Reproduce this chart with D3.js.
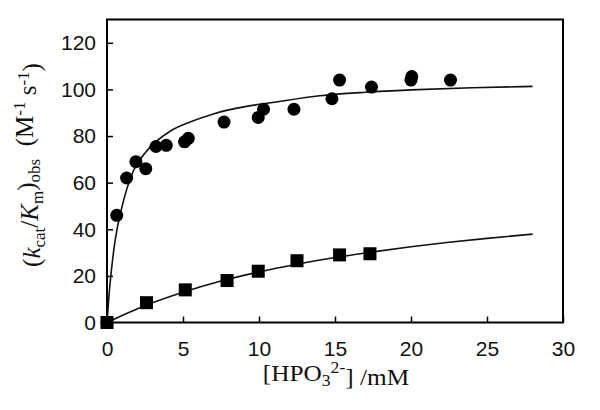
<!DOCTYPE html>
<html>
<head>
<meta charset="utf-8">
<script src="https://cdn.jsdelivr.net/npm/d3@7"></script>
<style>
  body { margin: 0; background: #fff; }
  svg { display: block; }
</style>
</head>
<body>
<svg width="600" height="410"></svg>
<script>
const circleX = [0, 0.64, 1.29, 1.9, 2.55, 3.22, 3.9, 5.1, 5.35, 7.7, 9.95, 10.3, 12.3, 14.8, 15.3, 17.4, 20.0, 20.05, 22.6];
const circleY = [0, 46, 62, 69, 66, 75.5, 76, 77.5, 79, 86, 88, 91.5, 91.5, 96, 104, 101, 104, 105.5, 104];

const squareX = [0, 2.6, 5.15, 7.9, 9.95, 12.5, 15.3, 17.3];
const squareY = [0, 8.5, 14, 18, 22, 26.5, 29, 29.5];

// fitted curves
const fitCircleX = [0, 0.15, 0.3, 0.53, 1, 1.73, 2.6, 4.14, 5.46, 7, 9, 11, 14, 17, 20, 24, 28];
const fitCircleY = [0, 13, 23, 35, 50, 65, 73.5, 82, 86, 89.5, 92.5, 94.5, 97.3, 98.8, 99.8, 100.7, 101.3];

const fitSquareX = [0, 2.6, 5, 7.5, 10, 12.5, 15, 17.5, 20, 22.5, 25, 28];
const fitSquareY = [0, 7.5, 13, 17.8, 21.7, 25, 27.9, 30.3, 32.5, 34.4, 36.1, 37.9];

const xTicks = [0, 5, 10, 15, 20, 25, 30];
const yTicks = [0, 20, 40, 60, 80, 100, 120];

const svg = d3.select("svg");

const x = d3.scaleLinear().domain([0, 30]).range([107, 563]);
const y = d3.scaleLinear().domain([0, 130]).range([322.5, 19.5]);

// axes with inward ticks
svg.append("g")
    .attr("transform", "translate(0,322.5)")
    .call(d3.axisBottom(x).tickValues(xTicks).tickSizeInner(-6).tickSizeOuter(0).tickPadding(19))
    .call(g => g.select(".domain").remove())
    .call(g => g.selectAll("line").attr("stroke", "#000").attr("stroke-width", 1.5))
    .call(g => g.selectAll("text")
        .attr("font-family", "Liberation Sans, Arial, sans-serif")
        .attr("font-size", "21px")
        .attr("fill", "#111"));

svg.append("g")
    .attr("transform", "translate(107,0)")
    .call(d3.axisLeft(y).tickValues(yTicks).tickSizeInner(-6).tickSizeOuter(0).tickPadding(11))
    .call(g => g.select(".domain").remove())
    .call(g => g.selectAll("line").attr("stroke", "#000").attr("stroke-width", 1.5))
    .call(g => g.selectAll("text")
        .attr("font-family", "Liberation Sans, Arial, sans-serif")
        .attr("font-size", "21px")
        .attr("fill", "#111"));

// frame
svg.append("rect")
    .attr("x", x(0))
    .attr("y", y(130))
    .attr("width", x(30) - x(0))
    .attr("height", y(0) - y(130))
    .attr("fill", "none")
    .attr("stroke", "#000")
    .attr("stroke-width", 2);

const line = d3.line()
    .x(d => x(d[0]))
    .y(d => y(d[1]))
    .curve(d3.curveMonotoneX);

svg.append("path")
    .datum(d3.zip(fitCircleX, fitCircleY))
    .attr("d", line)
    .attr("fill", "none")
    .attr("stroke", "#111")
    .attr("stroke-width", 1.6);

svg.append("path")
    .datum(d3.zip(fitSquareX, fitSquareY))
    .attr("d", line)
    .attr("fill", "none")
    .attr("stroke", "#111")
    .attr("stroke-width", 1.6);

svg.selectAll(".pt-circle")
    .data(d3.zip(circleX, circleY))
    .enter()
    .append("circle")
    .attr("class", "pt-circle")
    .attr("cx", d => x(d[0]))
    .attr("cy", d => y(d[1]))
    .attr("r", 6.5)
    .attr("fill", "#000");

svg.selectAll(".pt-square")
    .data(d3.zip(squareX, squareY))
    .enter()
    .append("rect")
    .attr("class", "pt-square")
    .attr("x", d => x(d[0]) - 6.5)
    .attr("y", d => y(d[1]) - 6.5)
    .attr("width", 13)
    .attr("height", 13)
    .attr("fill", "#000");

// x label (source type is a bit wide, so stretch it slightly)
const xl = svg.append("text")
    .attr("transform", "translate(336,381) scale(1.1,1)")
    .attr("text-anchor", "middle")
    .attr("font-family", "Liberation Serif, Times New Roman, serif")
    .attr("font-size", "23px")
    .attr("fill", "#111");
xl.append("tspan").text("[HPO");
xl.append("tspan").attr("dy", "0.3em").attr("font-size", "16px").text("3");
xl.append("tspan").attr("dy", "-0.8em").attr("font-size", "16px").text("2-");
xl.append("tspan").attr("dy", "0.5em").text("] /mM");

// y label
const yl = svg.append("text")
    .attr("transform", "translate(40,165) rotate(-90)")
    .attr("text-anchor", "middle")
    .attr("font-family", "Liberation Serif, Times New Roman, serif")
    .attr("font-size", "25px")
    .attr("fill", "#111");
yl.append("tspan").text("(");
yl.append("tspan").attr("font-style", "italic").text("k");
yl.append("tspan").attr("dy", "0.3em").attr("font-size", "17px").text("cat");
yl.append("tspan").attr("dy", "-0.3em").text("/");
yl.append("tspan").attr("font-style", "italic").text("K");
yl.append("tspan").attr("dy", "0.3em").attr("font-size", "17px").text("m");
yl.append("tspan").attr("dy", "-0.3em").text(")");
yl.append("tspan").attr("dy", "0.3em").attr("font-size", "17px").text("obs");
yl.append("tspan").attr("dy", "-0.3em").text("\u00a0 (M");
yl.append("tspan").attr("dy", "-0.45em").attr("font-size", "17px").text("-1");
yl.append("tspan").attr("dy", "0.45em").text(" s");
yl.append("tspan").attr("dy", "-0.45em").attr("font-size", "17px").text("-1");
yl.append("tspan").attr("dy", "0.45em").text(")");
</script>
</body>
</html>
